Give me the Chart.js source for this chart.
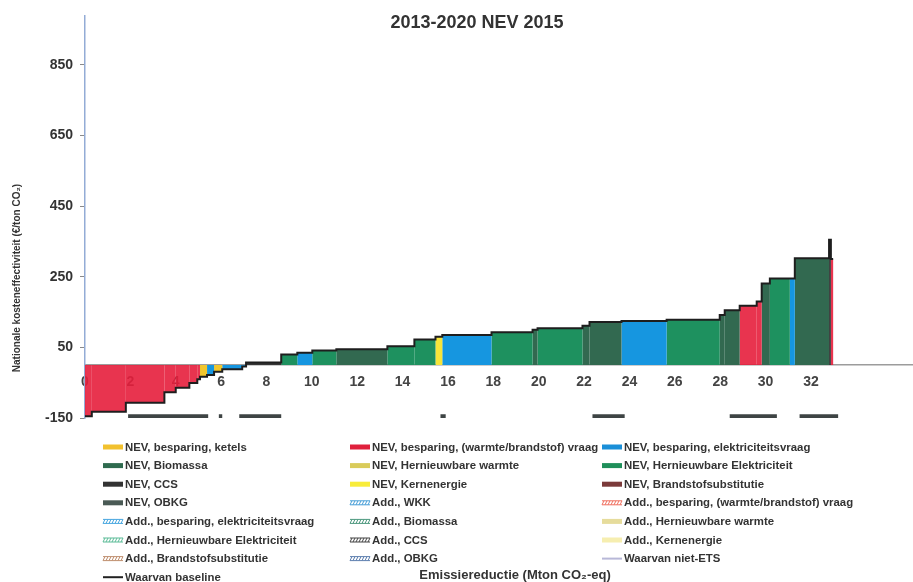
<!DOCTYPE html>
<html>
<head>
<meta charset="utf-8">
<title>2013-2020 NEV 2015</title>
<script src="https://cdn.jsdelivr.net/npm/chart.js@4.4.1/dist/chart.umd.min.js"></script>
<style>
  html, body { margin: 0; padding: 0; background: #fff; }
  #wrap { width: 913px; height: 582px; position: relative; }
</style>
</head>
<body>
<div id="wrap"><canvas id="macc"></canvas></div>
<script>
// measures from left to right: width (Mton CO2-eq), cost (euro/ton CO2), group index
const segWidths = [0.3, 1.5, 1.7, 0.5, 0.6, 0.35, 0.12, 0.31, 0.31, 0.36, 0.88, 0.17, 1.55, 0.71, 0.66, 1.06, 2.25, 1.19, 0.93, 0.3,
                   2.17, 1.81, 0.22, 1.98, 0.31, 1.41, 1.99, 2.34, 0.22, 0.66, 0.75, 0.22, 0.36, 0.88, 0.22, 1.51, 0.08, 0.1];
const segCosts = [-145, -132, -107, -77, -64, -51, -40, -33, -28, -19, -12, -4, 7, 30, 35, 41, 45, 53, 72, 80,
                  85, 93, 100, 104, 111, 122, 125, 128, 142, 155, 168, 180, 231, 245, 245, 302, 355, 300];
const segGroup = [0, 0, 0, 0, 0, 0, 0, 1, 2, 1, 2, 2, 3, 4, 2, 4, 5, 4, 4, 6,
                  2, 4, 5, 4, 5, 5, 2, 4, 5, 5, 0, 0, 5, 4, 2, 5, 3, 0];

const groupNames = ["NEV, besparing, (warmte/brandstof) vraag", "NEV, besparing, ketels", "NEV, besparing, elektriciteitsvraag",
                    "NEV, CCS", "NEV, Hernieuwbare Elektriciteit", "NEV, Biomassa", "NEV, Kernenergie"];
const groupColors = ["rgba(230,30,60,0.9)", "#f2c62c", "#1696e0", "#363636", "#1e915f", "#326950", "#f6e53a"];

// dark marks along the bottom of the chart
const markStart = [1.9, 5.9, 6.8, 15.67, 22.37, 28.42, 31.5];
const markEnd = [5.43, 6.05, 8.65, 15.9, 23.79, 30.5, 33.2];
const markLevel = -145;

const yTickValues = [-150, 50, 250, 450, 650, 850];
const xTickValues = [0, 2, 4, 6, 8, 10, 12, 14, 16, 18, 20, 22, 24, 26, 28, 30, 32];

const legendLabels = [
  "NEV, besparing, ketels", "NEV, besparing, (warmte/brandstof) vraag", "NEV, besparing, elektriciteitsvraag",
  "NEV, Biomassa", "NEV, Hernieuwbare warmte", "NEV, Hernieuwbare Elektriciteit",
  "NEV, CCS", "NEV, Kernenergie", "NEV, Brandstofsubstitutie",
  "NEV, OBKG", "Add., WKK", "Add., besparing, (warmte/brandstof) vraag",
  "Add., besparing, elektriciteitsvraag", "Add., Biomassa", "Add., Hernieuwbare warmte",
  "Add., Hernieuwbare Elektriciteit", "Add., CCS", "Add., Kernenergie",
  "Add., Brandstofsubstitutie", "Add., OBKG", "Waarvan niet-ETS",
  "Waarvan baseline"
];
const legendColors = [
  "#f2c12e", "#e0203c", "#1a8fd8",
  "#2f6b4f", "#d9cb5a", "#1f8f5a",
  "#333333", "#f8ec3a", "#7b3a3a",
  "#4a5a55", "#4aa0d8", "#f07060",
  "#4aa8e0", "#4f9a80", "#e6dc9c",
  "#5cbc98", "#444444", "#f6eeb0",
  "#c09070", "#5f80b0", "#b8b8d8",
  "#222222"
];
const legendStyles = [
  "solid", "solid", "solid",
  "solid", "solid", "solid",
  "solid", "solid", "solid",
  "solid", "hatch", "hatch",
  "hatch", "hatch", "solid",
  "hatch", "hatch", "solid",
  "hatch", "hatch", "line",
  "line"
];

const FONT = "Arial, 'Liberation Sans', sans-serif";

const segStarts = [];
let acc = 0;
segWidths.forEach(w => { segStarts.push(acc); acc += w; });

function outlinePoints() {
  const pts = [];
  segCosts.forEach((h, i) => {
    pts.push({ x: segStarts[i], y: h }, { x: segStarts[i] + segWidths[i], y: h });
  });
  return pts;
}

function markPoints() {
  const pts = [];
  markStart.forEach((s, i) => {
    pts.push({ x: s, y: markLevel }, { x: markEnd[i], y: markLevel }, { x: markEnd[i] + 0.01, y: null });
  });
  return pts;
}

const datasets = [];
datasets.push({
  label: "Waarvan baseline",
  data: outlinePoints(),
  borderColor: "#1e1e1e",
  borderWidth: 2,
  pointRadius: 0,
  fill: false,
  order: 0
});
datasets.push({
  label: "marks",
  data: markPoints(),
  borderColor: "#3e4444",
  borderWidth: 4,
  borderCapStyle: "butt",
  pointRadius: 0,
  spanGaps: false,
  fill: false,
  order: 1
});
// one filled rectangle per measure
segCosts.forEach((h, i) => {
  const s = segStarts[i], e = s + segWidths[i];
  datasets.push({
    label: groupNames[segGroup[i]],
    data: [{ x: s, y: 0 }, { x: s, y: h }, { x: e, y: h }, { x: e, y: 0 }],
    backgroundColor: groupColors[segGroup[i]],
    borderColor: "rgba(0,0,0,0)",
    borderWidth: 0,
    borderDash: [2, 0],
    pointRadius: 0,
    fill: "shape",
    order: 2
  });
});

function drawMarker(ctx, x, y, color, style) {
  if (style === "line") {
    ctx.strokeStyle = color;
    ctx.lineWidth = 2;
    ctx.beginPath();
    ctx.moveTo(x, y);
    ctx.lineTo(x + 20, y);
    ctx.stroke();
    return;
  }
  ctx.fillStyle = color;
  ctx.fillRect(x, y - 2.5, 20, 5);
  if (style === "hatch") {
    ctx.fillStyle = "#ffffff";
    ctx.fillRect(x, y - 1.5, 20, 3);
    ctx.strokeStyle = color;
    ctx.lineWidth = 1;
    ctx.beginPath();
    for (let k = 0; k < 20; k += 3) {
      ctx.moveTo(x + k, y + 2);
      ctx.lineTo(x + k + 2, y - 2);
    }
    ctx.stroke();
  }
}

const textPlugin = {
  id: "texts",
  beforeDraw(chart) {
    const ctx = chart.ctx;
    ctx.save();
    ctx.fillStyle = "#ffffff";
    ctx.fillRect(0, 0, chart.width, chart.height);
    ctx.restore();
  },
  afterDraw(chart) {
    const ctx = chart.ctx;
    ctx.save();
    ctx.fillStyle = "#333";
    ctx.textAlign = "center";
    ctx.textBaseline = "middle";
    ctx.font = "bold 18px " + FONT;
    ctx.fillText("2013-2020 NEV 2015", 477, 23);

    ctx.font = "bold 13px " + FONT;
    ctx.fillText("Emissiereductie (Mton CO\u2082-eq)", 515, 575);

    ctx.save();
    ctx.translate(17, 278);
    ctx.rotate(-Math.PI / 2);
    ctx.font = "bold 10px " + FONT;
    ctx.fillText("Nationale kosteneffectiviteit (\u20ac/ton CO\u2082)", 0, 0);
    ctx.restore();

    // legend, three columns
    const colX = [103, 350, 602];
    ctx.textAlign = "left";
    ctx.font = "bold 11.4px " + FONT;
    legendLabels.forEach((label, i) => {
      const x = colX[i % 3];
      const y = 447 + Math.floor(i / 3) * 18.6;
      drawMarker(ctx, x, y, legendColors[i], legendStyles[i]);
      ctx.fillStyle = "#333";
      ctx.fillText(label, x + 22, y + 0.5);
    });
    ctx.restore();
  }
};

new Chart(document.getElementById("macc"), {
  type: "line",
  data: { datasets: datasets },
  options: {
    responsive: true,
    maintainAspectRatio: false,
    animation: false,
    layout: { padding: { top: 15, right: 0, bottom: 164, left: 0 } },
    elements: { line: { tension: 0 } },
    plugins: {
      legend: { display: false },
      tooltip: { enabled: false },
      title: { display: false }
    },
    scales: {
      x: {
        type: "linear",
        position: { y: 0 },
        min: 0,
        max: 36.5,
        afterBuildTicks: s => { s.ticks = xTickValues.map(v => ({ value: v })); },
        grid: { display: false, drawTicks: false },
        border: { display: true, color: "#9c9c9c", width: 1.5 },
        ticks: {
          autoSkip: false,
          maxRotation: 0,
          padding: 9,
          color: "#444",
          font: { family: FONT, size: 14, weight: "bold" }
        }
      },
      y: {
        type: "linear",
        position: "left",
        min: -150,
        max: 990,
        afterBuildTicks: s => { s.ticks = yTickValues.map(v => ({ value: v })); },
        afterFit: s => { s.width = 85; },
        grid: { drawOnChartArea: false, drawTicks: true, tickLength: 5, color: "#8a8a8a" },
        border: { display: true, color: "#93acd6", width: 1.5 },
        ticks: {
          padding: 7,
          color: "#333",
          font: { family: FONT, size: 14, weight: "bold" }
        }
      }
    }
  },
  plugins: [textPlugin]
});
</script>
</body>
</html>
